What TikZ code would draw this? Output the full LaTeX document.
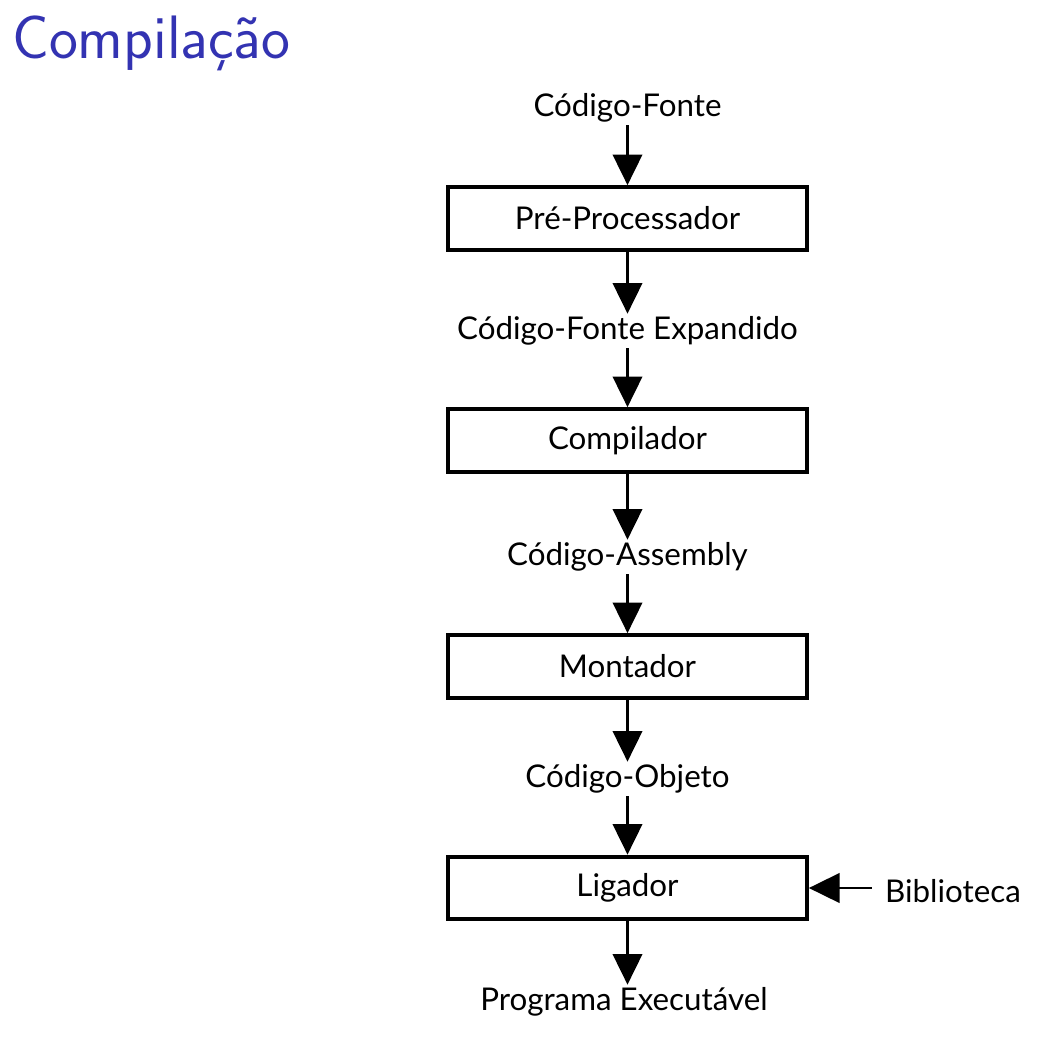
\documentclass[tikz,border=0pt]{standalone}
\usepackage{fontspec}
\newfontfamily\diafont{Lato}
\usetikzlibrary{arrows.meta}
\definecolor{titleblue}{RGB}{51,51,178}
\tikzset{
  stepbox/.style={draw=black, line width=3pt, fill=white, minimum width=269pt, minimum height=47pt, inner sep=0pt, font=\diafont\fontsize{23.5}{27}\selectfont},
  lbl/.style={inner sep=2pt, font=\diafont\fontsize{23.5}{27}\selectfont},
  flow/.style={line width=2.2pt, -{Triangle[length=23pt,width=22pt]}}
}
\begin{document}
\begin{tikzpicture}[x=0.75pt,y=-0.75pt]
\useasboundingbox[fill=white] (0,0) rectangle (1053,1043);
\node[anchor=base west, inner sep=0pt, text=titleblue, font=\sffamily\fontsize{46}{52}\selectfont] (title) at (12,58) {Compilação};
\node[lbl] (src) at (627.5,108) {Código-Fonte};
\node[stepbox] (pre) at (627.5,218.5) {Pré-Processador};
\node[lbl] (exp) at (627.5,331) {Código-Fonte Expandido};
\node[stepbox] (comp) at (627.5,440.5) {Compilador};
\node[lbl] (asm) at (627.5,557) {Código-Assembly};
\node[stepbox] (mont) at (627.5,666.5) {Montador};
\node[lbl] (obj) at (627.5,779) {Código-Objeto};
\node[stepbox] (lig) at (627.5,888) {Ligador};
\node[lbl] (bib) at (953,891) {Biblioteca};
\node[lbl] (exe) at (624,1002) {Programa Executável};
\draw[flow] (src) -- (pre);
\draw[flow] (pre) -- (exp);
\draw[flow] (exp) -- (comp);
\draw[flow] (comp) -- (asm);
\draw[flow] (asm) -- (mont);
\draw[flow] (mont) -- (obj);
\draw[flow] (obj) -- (lig);
\draw[flow] (lig) -- (lig |- exe.north);
\coordinate (bibstart) at ([xshift=-8pt]bib.west |- lig.east);
\draw[flow] (bibstart) -- (lig.east);
\end{tikzpicture}
\end{document}
